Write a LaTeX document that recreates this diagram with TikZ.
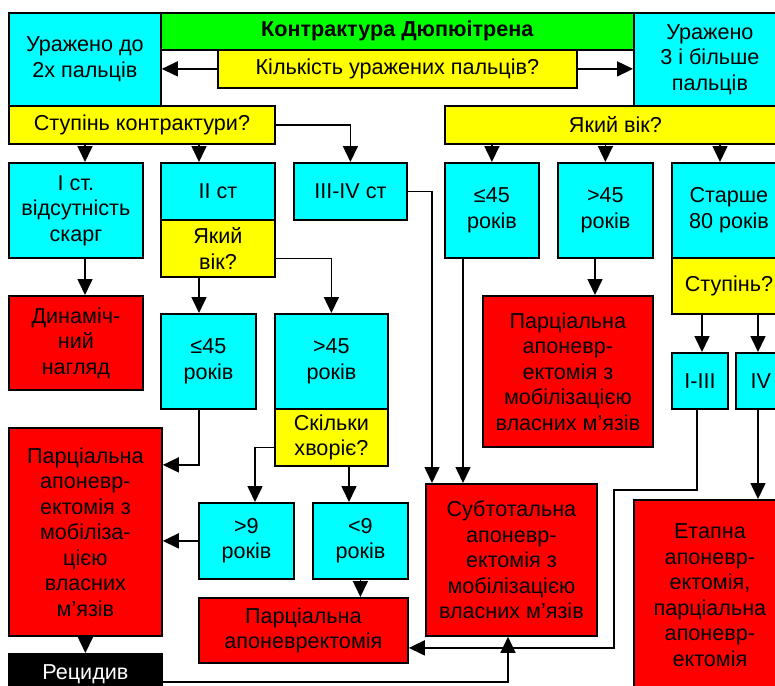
\documentclass[tikz,border=0pt]{standalone}
\usepackage{xcolor}
\usepackage{fontspec}
\setmainfont{Liberation Sans}
\usepackage{tikz}
\usetikzlibrary{positioning,arrows.meta}
\definecolor{boxCyan}{RGB}{0, 255, 255}
\definecolor{boxYellow}{RGB}{255, 255, 0}
\definecolor{boxGreen}{RGB}{0, 255, 0}
\definecolor{boxRed}{RGB}{255, 0, 0}

\tikzset{
  basebox/.style={draw=black, line width=1.8pt, anchor=north west, inner sep=0pt, align=center, font=\fontsize{21.6}{25.5}\selectfont},
  titlebox/.style={basebox, fill=boxGreen},
  askbox/.style={basebox, fill=boxYellow},
  choicebox/.style={basebox, fill=boxCyan},
  therapybox/.style={basebox, fill=boxRed},
  relapsebox/.style={basebox, fill=black, text=white},
  conn/.style={line width=1.6pt, -{Triangle[length=16pt,width=15pt]}}
}

\begin{document}
\begin{tikzpicture}[x=1pt, y=-1pt]
  \useasboundingbox (0,0) rectangle (775,685);

  \node[choicebox, minimum width=152pt, minimum height=93pt] (left2) at (8,12) {Уражено до\\2х пальців};
  \node[titlebox, minimum width=473pt, minimum height=37pt] (title) at (160,12) {\textbf{Контрактура Дюпюітрена}};
  \node[askbox, minimum width=359pt, minimum height=38pt] (count) at (217,49) {Кількість уражених пальців?};
  \node[choicebox, minimum width=152pt, minimum height=93pt] (right3) at (633,12) {Уражено\\3 і більше\\пальців};
  \node[askbox, minimum width=266pt, minimum height=38pt] (stage) at (8,105) {Ступінь контрактури?};
  \node[askbox, minimum width=341pt, minimum height=38pt] (age) at (444,105) {Який вік?};

  \node[choicebox, minimum width=134pt, minimum height=95pt] (st1) at (8,162) {I ст.\\відсутність\\скарг};
  \node[therapybox, minimum width=134pt, minimum height=94pt] (dyn) at (8,295) {Динаміч-\\ний\\нагляд};
  \node[choicebox, minimum width=114pt, minimum height=57pt] (st2) at (160,162) {II ст};
  \node[askbox, minimum width=114pt, minimum height=57pt] (age2) at (160,219) {Який\\вік?};
  \node[choicebox, minimum width=113pt, minimum height=57pt] (st34) at (293,162) {III-IV ст};
  \node[choicebox, minimum width=95pt, minimum height=95pt] (young2) at (160,313) {≤45\\років};
  \node[choicebox, minimum width=113pt, minimum height=95pt] (older2) at (274,313) {>45\\років};
  \node[askbox, minimum width=113pt, minimum height=57pt] (howlong) at (274,408) {Скільки\\хворіє?};
  \node[choicebox, minimum width=95pt, minimum height=76pt] (long) at (198,502) {>9\\років};
  \node[choicebox, minimum width=95pt, minimum height=76pt] (short) at (312,502) {<9\\років};
  \node[therapybox, minimum width=209pt, minimum height=65pt] (part) at (198,597) {Парціальна\\апоневректомія};
  \node[therapybox, minimum width=153pt, minimum height=208pt] (partmob) at (8,427) {Парціальна\\апоневр-\\ектомія з\\мобіліза-\\цією\\власних\\м'язів};
  \node[relapsebox, minimum width=153pt, minimum height=40pt] (relapse) at (8,653) {Рецидив};

  \node[choicebox, minimum width=94pt, minimum height=95pt] (young3) at (444,162) {≤45\\років};
  \node[choicebox, minimum width=95pt, minimum height=95pt] (older3) at (557,162) {>45\\років};
  \node[therapybox, minimum width=170pt, minimum height=151pt] (partmob3) at (482,295) {Парціальна\\апоневр-\\ектомія з\\мобілізацією\\власних м'язів};
  \node[choicebox, minimum width=114pt, minimum height=95pt] (eldest) at (671,162) {Старше\\80 років};
  \node[askbox, minimum width=114pt, minimum height=56pt] (degree) at (671,257) {Ступінь?};
  \node[choicebox, minimum width=56pt, minimum height=56pt] (deg13) at (671,352) {I-III};
  \node[choicebox, minimum width=50pt, minimum height=56pt] (deg4) at (735,352) {IV};
  \node[therapybox, minimum width=171pt, minimum height=152pt] (subtotal) at (425,483) {Субтотальна\\апоневр-\\ектомія з\\мобілізацією\\власних м'язів};
  \node[therapybox, minimum width=152pt, minimum height=191pt] (staged) at (633,499) {Етапна\\апоневр-\\ектомія,\\парціальна\\апоневр-\\ектомія};

  \draw[conn] (count.west) -- (count.west -| left2.east);
  \draw[conn] (count.east) -- (count.east -| right3.west);
  \draw[conn] ([xshift=77]st1.north west |- stage.south) -- ([xshift=77]st1.north west);
  \draw[conn] ([xshift=39]st2.north west |- stage.south) -- ([xshift=39]st2.north west);
  \draw[conn] (stage.east) -| (st34.north);
  \draw[conn] (young3.north |- age.south) -- (young3.north);
  \draw[conn] (older3.north |- age.south) -- (older3.north);
  \draw[conn] ([xshift=49]eldest.north west |- age.south) -- ([xshift=49]eldest.north west);

  \draw[conn] ([xshift=77]st1.south west) -- ([xshift=77]dyn.north west);
  \draw[conn] ([xshift=39]age2.south west) -- ([xshift=39]young2.north west);
  \draw[conn] ([yshift=-10]age2.east) -| (older2.north);
  \draw[conn] ([xshift=39]young2.south west) |- ([yshift=67]partmob.east);
  \draw[conn] ([yshift=-10]howlong.west) -| ([xshift=57]long.north west);
  \draw[conn] ([xshift=75]howlong.south west) -- ([xshift=37]short.north west);
  \draw[conn] (long.west) -- (long.west -| partmob.east);
  \draw[conn] (short.south) -- (short.south |- part.north);
  \draw[conn] (partmob.south) -- (relapse.north);
  \draw[conn] ([yshift=-8]relapse.east) -| ([xshift=83]subtotal.south west);

  \draw[conn] (st34.east) -| ([xshift=7]subtotal.north west);
  \draw[conn] ([xshift=19]young3.south west) -- ([xshift=38]subtotal.north west);
  \draw[conn] ([xshift=38]older3.south west) -- ([xshift=113]partmob3.north west);
  \draw[conn] ([xshift=31]degree.south west) -- ([xshift=31]deg13.north west);
  \draw[conn] ([xshift=87]degree.south west) -- ([xshift=23]deg4.north west);
  \draw[conn] ([xshift=26]deg13.south west) -- ++(0,80) -- ++(-83,0) |- ([yshift=-17.5]part.east);
  \draw[conn] ([xshift=23]deg4.south west) -- ([xshift=125]staged.north west);
\end{tikzpicture}
\end{document}
